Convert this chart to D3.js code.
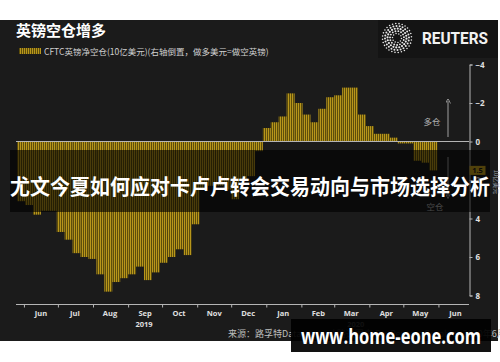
<!DOCTYPE html>
<html>
<head>
<meta charset="utf-8">
<script src="https://cdn.jsdelivr.net/npm/d3@7"></script>
<style>
  html, body { margin: 0; padding: 0; background: #fff; }
  svg { display: block; font-family: "Noto Sans CJK SC", "Noto Sans", sans-serif; }
</style>
</head>
<body>
<script>
(function () {
  'use strict';

  // weekly CFTC net GBP short position, billions USD (week start dates)
  var weeks = [
    '2019-05-26', '2019-06-02', '2019-06-09', '2019-06-16', '2019-06-23', '2019-06-30',
    '2019-07-07', '2019-07-14', '2019-07-21', '2019-07-28', '2019-08-04', '2019-08-11',
    '2019-08-18', '2019-08-25', '2019-09-01', '2019-09-08', '2019-09-15', '2019-09-22',
    '2019-09-29', '2019-10-06', '2019-10-13', '2019-10-20', '2019-10-27', '2019-11-03',
    '2019-11-10', '2019-11-17', '2019-11-24', '2019-12-01', '2019-12-08', '2019-12-15',
    '2019-12-22', '2019-12-29', '2020-01-05', '2020-01-12', '2020-01-19', '2020-01-26',
    '2020-02-02', '2020-02-09', '2020-02-16', '2020-02-23', '2020-03-01', '2020-03-08',
    '2020-03-15', '2020-03-22', '2020-03-29', '2020-04-05', '2020-04-12', '2020-04-19',
    '2020-04-26', '2020-05-03', '2020-05-10', '2020-05-17', '2020-05-24'
  ];
  var netShort = [
    3.1, 3.3, 3.8, 3.6, 3.6, 4.7,
    5.1, 5.8, 6.0, 6.1, 6.9, 7.8,
    7.3, 7.1, 6.9, 6.5, 7.2, 6.8,
    6.3, 6.0, 5.6, 5.9, 4.3, 2.5,
    2.3, 2.3, 2.5, 3.0, 2.0, 1.8,
    0.5, -0.7, -1.0, -1.3, -2.5, -2.0,
    -1.4, -1.0, -1.7, -2.3, -2.4, -2.8,
    -2.8, -1.4, -0.8, -0.4, -0.4, -0.2,
    0.1, 0.1, 1.0, 1.1, 1.5
  ];
  var yTicks = [-4, -2, 0, 2, 4, 6, 8];
  var monthLabels = ['Jun', 'Jul', 'Aug', 'Sep', 'Oct', 'Nov', 'Dec',
    'Jan', 'Feb', 'Mar', 'Apr', 'May', 'Jun'];
  var yearLabels = [{ label: '2019', date: '2019-09-15' }, { label: '2020', date: '2020-03-20' }];

  var W = 500, H = 362;
  var parse = d3.timeParse('%Y-%m-%d');

  var data = weeks.map(function (w, i) {
    var d0 = parse(w);
    return { start: d0, end: d3.timeDay.offset(d0, 7), v: netShort[i] };
  });

  var svg = d3.select('body').append('svg')
    .attr('width', W)
    .attr('height', H);

  var defs = svg.append('defs');
  var pat = defs.append('pattern')
    .attr('id', 'hatch')
    .attr('patternUnits', 'userSpaceOnUse')
    .attr('width', 2)
    .attr('height', 4);
  pat.append('rect').attr('width', 2).attr('height', 4).attr('fill', '#5e4e0b');
  pat.append('rect').attr('width', 1).attr('height', 4).attr('fill', '#b8961b');

  // backgrounds
  svg.append('rect').attr('x', 0).attr('y', 0).attr('width', W).attr('height', H).attr('fill', '#fff');
  svg.append('rect').attr('x', 0).attr('y', 20).attr('width', 498).attr('height', 321).attr('fill', '#1b1b1b');
  svg.append('rect').attr('x', 378).attr('y', 20).attr('width', 120).attr('height', 38).attr('fill', '#141414');

  var x = d3.scaleTime()
    .domain([parse('2019-05-25'), parse('2020-06-28')])
    .range([16, 469]);

  var y = d3.scaleLinear()
    .domain([-4, 8])
    .range([64.5, 295.5]);

  // title + legend
  svg.append('text')
    .attr('x', 16).attr('y', 36)
    .attr('fill', '#fff')
    .attr('font-size', 15)
    .attr('font-weight', 'bold')
    .text('英镑空仓增多');

  svg.append('rect')
    .attr('x', 19).attr('y', 48).attr('width', 22).attr('height', 6)
    .attr('fill', 'url(#hatch)');
  svg.append('text')
    .attr('x', 44).attr('y', 55)
    .attr('fill', '#d0d0d0')
    .attr('font-size', 8.5)
    .text('CFTC英镑净空仓(10亿美元)(右轴倒置，做多美元=做空英镑)');

  // reuters logo
  var logo = svg.append('g').attr('transform', 'translate(397,38)');
  [[4.5, 10, 0.75], [7, 15, 0.95], [9.5, 20, 1.1], [12, 24, 1.0], [14.5, 28, 0.8]].forEach(function (ring) {
    d3.range(ring[1]).forEach(function (k) {
      var a = k / ring[1] * Math.PI * 2 + ring[0];
      logo.append('circle')
        .attr('cx', Math.cos(a) * ring[0])
        .attr('cy', Math.sin(a) * ring[0])
        .attr('r', ring[2])
        .attr('fill', '#e8e8e8');
    });
  });
  svg.append('text')
    .attr('x', 422).attr('y', 43.5)
    .attr('fill', '#f2f2f2')
    .attr('font-size', 16)
    .attr('font-weight', 'bold')
    .attr('font-family', 'Roboto, sans-serif')
    .attr('textLength', 66)
    .attr('lengthAdjust', 'spacingAndGlyphs')
    .text('REUTERS');

  // bars
  svg.append('g').selectAll('rect')
    .data(data)
    .enter()
    .append('rect')
    .attr('x', function (d) { return x(d.start); })
    .attr('width', function (d) { return x(d.end) - x(d.start); })
    .attr('y', function (d) { return Math.min(y(d.v), y(0)); })
    .attr('height', function (d) { return Math.abs(y(d.v) - y(0)); })
    .attr('fill', 'url(#hatch)');

  // zero line
  svg.append('line')
    .attr('x1', 16).attr('x2', 469)
    .attr('y1', y(0)).attr('y2', y(0))
    .attr('stroke', '#b5b5b5')
    .attr('stroke-width', 1);

  // right axis
  var yAxis = svg.append('g')
    .attr('transform', 'translate(469.5,0)')
    .call(d3.axisRight(y).tickValues(yTicks).tickSize(3).tickPadding(3));
  yAxis.select('.domain').attr('stroke', '#b5b5b5');
  yAxis.selectAll('.tick line').attr('stroke', '#b5b5b5');
  yAxis.selectAll('.tick text')
    .attr('fill', '#e0e0e0')
    .attr('font-size', 8)
    .attr('font-weight', 'bold')
    .attr('font-family', 'Open Sans, sans-serif');

  svg.append('text')
    .attr('transform', 'translate(494,182) rotate(90)')
    .attr('text-anchor', 'middle')
    .attr('fill', '#9aa0aa')
    .attr('font-size', 6)
    .text('10亿美元');

  // bottom axis
  var monthTicks = d3.timeMonth.range(parse('2019-06-01'), parse('2020-06-02'));
  var xAxis = svg.append('g')
    .attr('transform', 'translate(0,304.5)')
    .call(d3.axisBottom(x).tickValues(monthTicks).tickSize(3).tickFormat(''));
  xAxis.select('.domain').attr('stroke', '#b5b5b5').attr('d', 'M16,0H469');
  xAxis.selectAll('.tick line').attr('stroke', '#b5b5b5');

  svg.append('g').selectAll('text')
    .data(monthLabels)
    .enter()
    .append('text')
    .attr('x', function (d, i) {
      return x(d3.timeDay.offset(monthTicks[i], 15));
    })
    .attr('y', 316)
    .attr('text-anchor', 'middle')
    .attr('fill', '#e0e0e0')
    .attr('font-size', 7.5)
    .attr('font-weight', 'bold')
    .attr('font-family', 'Open Sans, sans-serif')
    .text(function (d) { return d; });

  svg.append('g').selectAll('text')
    .data(yearLabels)
    .enter()
    .append('text')
    .attr('x', function (d) { return x(parse(d.date)); })
    .attr('y', 327)
    .attr('text-anchor', 'middle')
    .attr('fill', '#e0e0e0')
    .attr('font-size', 7.5)
    .attr('font-weight', 'bold')
    .attr('font-family', 'Open Sans, sans-serif')
    .text(function (d) { return d.label; });

  // long / short annotations
  defs.append('marker')
    .attr('id', 'arrow')
    .attr('viewBox', '0 0 6 6')
    .attr('refX', 3).attr('refY', 3)
    .attr('markerWidth', 5).attr('markerHeight', 5)
    .attr('orient', 'auto')
    .append('path')
    .attr('d', 'M0,0L6,3L0,6')
    .attr('fill', 'none')
    .attr('stroke', '#a0a0a0');

  svg.append('line')
    .attr('x1', 448).attr('x2', 448).attr('y1', 137).attr('y2', 101)
    .attr('stroke', '#a0a0a0').attr('marker-end', 'url(#arrow)');
  svg.append('line')
    .attr('x1', 448).attr('x2', 448).attr('y1', 157).attr('y2', 196)
    .attr('stroke', '#a0a0a0').attr('marker-end', 'url(#arrow)');
  svg.append('text')
    .attr('x', 432).attr('y', 125)
    .attr('text-anchor', 'middle')
    .attr('fill', '#b0b0b0')
    .attr('font-size', 8.5)
    .text('多仓');
  svg.append('text')
    .attr('x', 435).attr('y', 210)
    .attr('text-anchor', 'middle')
    .attr('fill', '#b0b0b0')
    .attr('font-size', 8.5)
    .text('空仓');

  // last value label
  var last = data[data.length - 1];
  svg.append('rect')
    .attr('x', 469.5).attr('y', y(last.v) - 4.5)
    .attr('width', 16).attr('height', 9)
    .attr('fill', '#c9a21c');
  svg.append('text')
    .attr('x', 477.5).attr('y', y(last.v) + 3)
    .attr('text-anchor', 'middle')
    .attr('fill', '#1a1a1a')
    .attr('font-size', 7.5)
    .attr('font-weight', 'bold')
    .attr('font-family', 'Open Sans, sans-serif')
    .text(d3.format('.1f')(last.v));

  // source
  svg.append('text')
    .attr('x', 228).attr('y', 337)
    .attr('fill', '#bdbdbd')
    .attr('font-size', 9)
    .text('来源：路孚特Datastream  |  路透图表  By: Reuters Graphics  2020年6月');

  // headline overlay band
  svg.append('rect')
    .attr('x', 10).attr('y', 150).attr('width', 480).attr('height', 62)
    .attr('fill', '#000')
    .attr('fill-opacity', 0.6);
  svg.append('text')
    .attr('x', 250).attr('y', 194)
    .attr('text-anchor', 'middle')
    .attr('fill', '#fff')
    .attr('font-size', 21)
    .attr('font-weight', 'bold')
    .attr('textLength', 480)
    .attr('lengthAdjust', 'spacingAndGlyphs')
    .text('尤文今夏如何应对卡卢卢转会交易动向与市场选择分析');

  // watermark
  svg.append('rect')
    .attr('x', 291).attr('y', 319).attr('width', 200).attr('height', 33)
    .attr('fill', '#000')
    .attr('fill-opacity', 0.93);
  svg.append('text')
    .attr('x', 391).attr('y', 344)
    .attr('text-anchor', 'middle')
    .attr('fill', '#fff')
    .attr('font-size', 22)
    .attr('font-weight', 'bold')
    .attr('font-family', 'Open Sans, sans-serif')
    .attr('textLength', 180)
    .attr('lengthAdjust', 'spacingAndGlyphs')
    .text('www.home-eone.com');
}());
</script>
</body>
</html>
